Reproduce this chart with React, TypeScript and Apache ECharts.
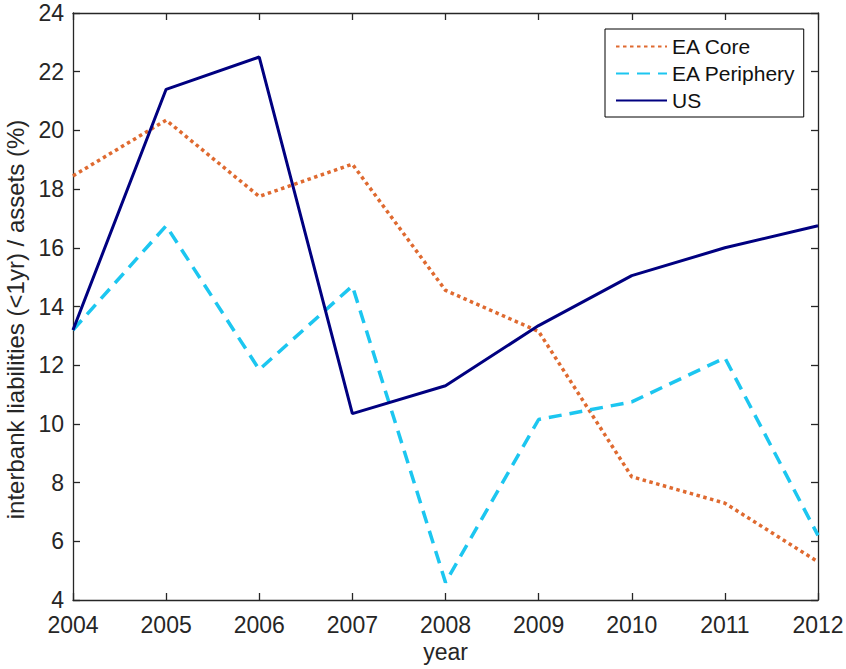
import React, { useEffect, useRef } from "react";
import * as echarts from "echarts";

const years = ["2004", "2005", "2006", "2007", "2008", "2009", "2010", "2011", "2012"];
const eaCore = [18.45, 20.35, 17.75, 18.85, 14.55, 13.15, 8.2, 7.3, 5.3];
const eaPeriphery = [13.2, 16.75, 11.85, 14.7, 4.6, 10.15, 10.75, 12.25, 6.2];
const us = [13.2, 21.4, 22.5, 10.35, 11.3, 13.35, 15.05, 16.0, 16.75];
const yTicks = { min: 4, max: 24, interval: 2 };

const FONT = "'Liberation Sans', Arial, sans-serif";
const AXIS_COLOR = "#262626";

export default function App() {
  const ref = useRef<HTMLDivElement>(null);
  useEffect(() => {
    if (!ref.current) return;
    const chart = echarts.init(ref.current, undefined, { renderer: "svg" });
    const axisLine = { show: true, lineStyle: { color: AXIS_COLOR, width: 1.3 } };
    const axisTick = { show: true, inside: true, length: 7, lineStyle: { color: AXIS_COLOR, width: 1.3 } };
    chart.setOption({
      animation: false,
      backgroundColor: "#ffffff",
      textStyle: { fontFamily: FONT },
      grid: { left: 73, top: 13, right: 28, bottom: 69, containLabel: false, outerBoundsMode: "none" },
      legend: {
        orient: "vertical",
        left: 605,
        top: 29,
        backgroundColor: "#ffffff",
        borderColor: "#000000",
        borderWidth: 1,
        borderRadius: 0,
        padding: [7, 8, 6, 10],
        itemGap: 6,
        itemWidth: 51,
        itemHeight: 20,
        itemStyle: { opacity: 0 },
        textStyle: { fontFamily: FONT, fontSize: 21, color: "#111111", padding: [0, 0, 0, 0] },
        data: ["EA Core", "EA Periphery", "US"],
      },
      xAxis: [
        {
          type: "category",
          data: years,
          boundaryGap: false,
          axisLine,
          axisTick: { ...axisTick, alignWithLabel: true },
          axisLabel: { fontSize: 23, color: "#262626", margin: 13, fontFamily: FONT },
          splitLine: { show: false },
          name: "year",
          nameLocation: "middle",
          nameGap: 40,
          nameTextStyle: { fontSize: 23, color: "#262626", fontFamily: FONT },
        },
        {
          type: "category",
          data: years,
          boundaryGap: false,
          position: "top",
          axisLine,
          axisTick,
          axisLabel: { show: false },
          splitLine: { show: false },
        },
      ],
      yAxis: [
        {
          type: "value",
          min: yTicks.min,
          max: yTicks.max,
          interval: yTicks.interval,
          axisLine,
          axisTick,
          axisLabel: { fontSize: 23, color: "#262626", margin: 9, fontFamily: FONT },
          splitLine: { show: false },
          name: "interbank liabilities (<1yr) / assets (%)",
          nameLocation: "middle",
          nameGap: 37,
          nameTextStyle: { fontSize: 24, color: "#262626", fontFamily: FONT, padding: [0, 26, 0, 0] },
        },
        {
          type: "value",
          min: yTicks.min,
          max: yTicks.max,
          interval: yTicks.interval,
          position: "right",
          axisLine,
          axisTick,
          axisLabel: { show: false },
          splitLine: { show: false },
        },
      ],
      series: [
        {
          name: "EA Core",
          type: "line",
          data: eaCore,
          showSymbol: false,
          symbol: "none",
          color: "#DF6A30",
          lineStyle: { color: "#DF6A30", width: 3.5, type: [3.5, 3.5] },
        },
        {
          name: "EA Periphery",
          type: "line",
          data: eaPeriphery,
          showSymbol: false,
          symbol: "none",
          color: "#1CC6F0",
          lineStyle: { color: "#1CC6F0", width: 3.5, type: [13, 8] },
        },
        {
          name: "US",
          type: "line",
          data: us,
          showSymbol: false,
          symbol: "none",
          color: "#000080",
          lineStyle: { color: "#000080", width: 3 },
        },
      ],
    });
    return () => chart.dispose();
  }, []);
  return (
    <div
      ref={ref}
      style={{ position: "absolute", left: 0, top: 0, width: 846, height: 669 }}
    />
  );
}
